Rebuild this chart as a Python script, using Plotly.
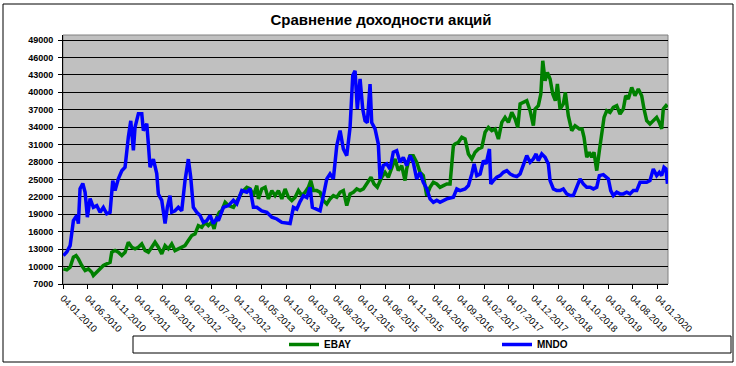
import plotly.graph_objects as go
from datetime import datetime

# ---- data (time as decimal years) ----
ebay_t = [2010.015, 2010.072, 2010.128, 2010.183, 2010.228, 2010.267, 2010.324, 2010.380, 2010.435, 2010.492,
          2010.519, 2010.576, 2010.632, 2010.687, 2010.744, 2010.800, 2010.828, 2010.884, 2010.939, 2010.997,
          2011.052, 2011.107, 2011.165, 2011.220, 2011.276, 2011.333, 2011.389, 2011.444, 2011.501, 2011.556,
          2011.612, 2011.669, 2011.725, 2011.780, 2011.837, 2011.892, 2011.948, 2012.005, 2012.060, 2012.116,
          2012.173, 2012.228, 2012.284, 2012.341, 2012.397, 2012.452, 2012.509, 2012.548, 2012.593, 2012.637,
          2012.677, 2012.733, 2012.788, 2012.872, 2012.929, 2013.013, 2013.097, 2013.153, 2013.208, 2013.265,
          2013.292, 2013.349, 2013.405, 2013.460, 2013.518, 2013.573, 2013.628, 2013.686, 2013.741, 2013.797,
          2013.854, 2013.910, 2013.965, 2014.022, 2014.077, 2014.133, 2014.173, 2014.217, 2014.274, 2014.329,
          2014.385, 2014.442, 2014.497, 2014.553, 2014.610, 2014.666, 2014.721, 2014.778, 2014.834, 2014.889,
          2014.946, 2015.002, 2015.057, 2015.114, 2015.158, 2015.186, 2015.237, 2015.292, 2015.366, 2015.422,
          2015.477, 2015.534, 2015.590, 2015.645, 2015.702, 2015.758, 2015.786, 2015.842, 2015.897, 2015.955,
          2016.010, 2016.065, 2016.123, 2016.178, 2016.234, 2016.291, 2016.346, 2016.402, 2016.459, 2016.514,
          2016.543, 2016.570, 2016.598, 2016.654, 2016.711, 2016.766, 2016.822, 2016.879, 2016.934, 2016.990,
          2017.047, 2017.102, 2017.158, 2017.215, 2017.270, 2017.326, 2017.383, 2017.438, 2017.494, 2017.551,
          2017.607, 2017.652, 2017.691, 2017.746, 2017.803, 2017.859, 2017.914, 2017.943, 2017.998, 2018.039,
          2018.072, 2018.111, 2018.149, 2018.195, 2018.240, 2018.284, 2018.318, 2018.363, 2018.418, 2018.452,
          2018.502, 2018.559, 2018.615, 2018.688, 2018.733, 2018.766, 2018.812, 2018.855, 2018.896, 2018.934,
          2018.980, 2019.024, 2019.064, 2019.103, 2019.148, 2019.203, 2019.259, 2019.316, 2019.371, 2019.427,
          2019.467, 2019.511, 2019.568, 2019.623, 2019.679, 2019.736, 2019.775, 2019.820, 2019.875, 2019.931,
          2019.988, 2020.032, 2020.072, 2020.099, 2020.144, 2020.169]
ebay_v = [9610, 9440, 9890, 11610, 11900, 11330, 10180, 9320, 9610, 9030,
          8460, 9030, 9610, 10180, 10470, 10750, 12470, 12760, 12470, 11900,
          12470, 14190, 13330, 13050, 13330, 13910, 12760, 12470, 13330, 14190,
          13330, 12190, 13620, 13050, 13910, 12760, 13050, 13330, 13620, 14480,
          15340, 15630, 17060, 16770, 17630, 17060, 17630, 16490, 18490, 19350,
          19640, 21070, 20500, 20210, 21360, 22790, 23650, 23370, 22220, 23940,
          21650, 23370, 23650, 21650, 23080, 22220, 23080, 21650, 23370, 21930,
          21360, 21930, 23080, 22220, 22790, 23650, 24800, 23080, 23080, 22790,
          21360, 20790, 21650, 22220, 21930, 22790, 23080, 20500, 22500, 22790,
          23370, 23080, 23370, 24230, 24800, 25370, 24230, 23650, 25370, 26230,
          25370, 27090, 28530, 26520, 27380, 24800, 26810, 29100, 29100, 27950,
          26230, 25660, 22220, 23650, 24510, 24230, 23650, 23940, 24230, 24230,
          27000, 30820, 31110, 31390, 32250, 31960, 29390, 28530, 29680, 30250,
          30540, 33120, 33970, 33400, 33690, 31960, 34830, 35690, 34830, 36550,
          35410, 33970, 37990, 38270, 38560, 36840, 34260, 37130, 37700, 39710,
          45440, 42000, 43430, 42290, 39710, 38560, 41430, 37130, 38000, 39990,
          35980, 33400, 34260, 33690, 33690, 32250, 28810, 29680, 28810, 29680,
          26520, 29960, 32540, 35690, 36840, 36550, 37410, 37700, 36270, 37130,
          39420, 38850, 40850, 39420, 40560, 39420, 37130, 35120, 34550, 35120,
          35690, 34830, 33690, 37130, 37700, 37410]

mndo_t = [2010.015, 2010.072, 2010.128, 2010.156, 2010.183, 2010.240, 2010.267, 2010.295, 2010.341, 2010.380,
          2010.418, 2010.464, 2010.519, 2010.576, 2010.632, 2010.687, 2010.744, 2010.800, 2010.845, 2010.884,
          2010.939, 2010.997, 2011.052, 2011.107, 2011.148, 2011.192, 2011.220, 2011.276, 2011.333, 2011.360,
          2011.417, 2011.444, 2011.472, 2011.528, 2011.585, 2011.612, 2011.669, 2011.725, 2011.763, 2011.808,
          2011.837, 2011.892, 2011.948, 2012.005, 2012.060, 2012.116, 2012.156, 2012.200, 2012.257, 2012.313,
          2012.368, 2012.425, 2012.481, 2012.536, 2012.593, 2012.620, 2012.704, 2012.788, 2012.872, 2012.929,
          2013.013, 2013.097, 2013.153, 2013.208, 2013.265, 2013.349, 2013.434, 2013.518, 2013.602, 2013.686,
          2013.770, 2013.825, 2013.881, 2013.938, 2013.993, 2014.049, 2014.106, 2014.161, 2014.200, 2014.274,
          2014.329, 2014.385, 2014.442, 2014.497, 2014.553, 2014.610, 2014.666, 2014.721, 2014.778, 2014.834,
          2014.879, 2014.918, 2014.956, 2015.002, 2015.047, 2015.086, 2015.124, 2015.170, 2015.198, 2015.254,
          2015.309, 2015.338, 2015.393, 2015.450, 2015.506, 2015.561, 2015.618, 2015.674, 2015.729, 2015.786,
          2015.842, 2015.897, 2015.954, 2016.010, 2016.065, 2016.123, 2016.178, 2016.234, 2016.291, 2016.346,
          2016.402, 2016.459, 2016.514, 2016.570, 2016.627, 2016.682, 2016.766, 2016.822, 2016.879, 2016.918,
          2016.963, 2017.019, 2017.074, 2017.119, 2017.175, 2017.198, 2017.242, 2017.299, 2017.354, 2017.410,
          2017.467, 2017.523, 2017.578, 2017.635, 2017.691, 2017.746, 2017.803, 2017.859, 2017.914, 2017.960,
          2017.998, 2018.055, 2018.111, 2018.166, 2018.195, 2018.251, 2018.307, 2018.363, 2018.418, 2018.475,
          2018.531, 2018.586, 2018.643, 2018.699, 2018.754, 2018.811, 2018.867, 2018.923, 2018.980, 2019.024,
          2019.091, 2019.175, 2019.215, 2019.259, 2019.316, 2019.371, 2019.427, 2019.484, 2019.539, 2019.595,
          2019.652, 2019.708, 2019.763, 2019.820, 2019.875, 2019.931, 2019.988, 2020.032, 2020.072, 2020.111,
          2020.144, 2020.169]
mndo_v = [11900, 12500, 13600, 15700, 17900, 18800, 17400, 23400, 24300, 22800,
          18500, 21700, 20200, 20500, 19350, 20200, 19100, 19350, 24800, 23100,
          25100, 26500, 27100, 32250, 35100, 30000, 34000, 36300, 36300, 33400,
          34600, 31100, 27100, 28500, 26000, 22500, 21400, 17400, 20200, 22200,
          19350, 19600, 20200, 19600, 24800, 28500, 25400, 20200, 19350, 18800,
          17600, 17900, 18800, 17400, 18300, 17900, 20200, 20500, 21400, 20800,
          23100, 22800, 23400, 20200, 20200, 19600, 19350, 18500, 18200, 17600,
          17400, 17400, 20200, 19900, 21200, 22200, 21900, 23650, 20200, 19900,
          19600, 22200, 25100, 25950, 25100, 30800, 33400, 30250, 29100, 34000,
          42900, 43700, 37100, 42300, 37100, 35100, 34800, 41400, 34800, 33700,
          31100, 25100, 27400, 27700, 26800, 29700, 29960, 27950, 28800, 27400,
          29100, 27950, 25100, 26200, 24500, 23400, 21650, 21070, 21400, 21070,
          21400, 21650, 21800, 21930, 23370, 23080, 23370, 23940, 25950, 27670,
          25660, 25950, 28240, 27670, 30250, 24230, 24800, 25370, 25660, 26230,
          26520, 25950, 25660, 25500, 25950, 27380, 29100, 27950, 28530, 29390,
          28240, 29390, 28810, 27670, 24800, 23370, 23080, 23080, 23370, 22510,
          22220, 22220, 23660, 25090, 24230, 23660, 23660, 23370, 23660, 25660,
          25830, 25090, 23080, 22220, 22800, 22510, 22510, 22800, 22510, 23080,
          23080, 24510, 24510, 24510, 24800, 26810, 25660, 26230, 25660, 27090,
          26810, 24230]

tick_labels = ["04.01.2010", "04.06.2010", "04.11.2010", "04.04.2011", "04.09.2011",
               "04.02.2012", "04.07.2012", "04.12.2012", "04.05.2013", "04.10.2013",
               "04.03.2014", "04.08.2014", "04.01.2015", "04.06.2015", "04.11.2015",
               "04.04.2016", "04.09.2016", "04.02.2017", "04.07.2017", "04.12.2017",
               "04.05.2018", "04.10.2018", "04.03.2019", "04.08.2019", "04.01.2020"]
y_ticks = [7000, 10000, 13000, 16000, 19000, 22000, 25000, 28000, 31000, 34000,
           37000, 40000, 43000, 46000, 49000]


def to_date(t):
    y = int(t)
    a = datetime(y, 1, 1)
    b = datetime(y + 1, 1, 1)
    return a + (b - a) * (t - y)


tick_dates = [datetime.strptime(s, "%d.%m.%Y") for s in tick_labels]
ebay_x = [to_date(t) for t in ebay_t]
mndo_x = [to_date(t) for t in mndo_t]

FONT = "Liberation Sans, Arial, sans-serif"

fig = go.Figure()
fig.add_trace(go.Scatter(x=ebay_x, y=ebay_v, mode="lines", name="<b>EBAY</b>", legend="legend",
                         line=dict(color="#008000", width=3.5)))
fig.add_trace(go.Scatter(x=mndo_x, y=mndo_v, mode="lines", name="<b>MNDO</b>", legend="legend2",
                         line=dict(color="#0000FF", width=3.5)))

# layout geometry (pixels)
W, H = 736, 366
L, R, T, B = 63, 668, 35, 284
pw, ph = R - L, B - T


def px(x):
    return (x - L) / pw


def py(y):
    return (B - y) / ph


leg_common = dict(orientation="h", xanchor="left", y=py(344.5), yanchor="middle",
                  itemwidth=30, font=dict(size=10, family=FONT, color="black"),
                  bgcolor="rgba(0,0,0,0)", borderwidth=0)

fig.update_layout(
    width=W, height=H,
    margin=dict(l=L, r=W - R, t=T, b=H - B, pad=0, autoexpand=False),
    paper_bgcolor="white",
    plot_bgcolor="#C0C0C0",
    font=dict(family=FONT, size=9, color="black"),
    title=dict(text="<b>Сравнение доходности акций</b>", font=dict(size=15, family=FONT, color="black"),
               x=381 / W, xanchor="center", xref="container",
               y=1 - 20 / H, yanchor="middle", yref="container"),
    showlegend=True,
    legend=dict(x=px(284), **leg_common),
    legend2=dict(x=px(497), **leg_common),
    xaxis=dict(type="date", range=[to_date(2010.0082), to_date(2020.178)],
               tickvals=tick_dates, ticktext=tick_labels, tickangle=45,
               showgrid=False, showline=True, linecolor="black", linewidth=1,
               ticks="outside", ticklen=4, tickcolor="black", tickwidth=1, automargin=False,
               tickfont=dict(size=9.5, family=FONT, color="black"), zeroline=False),
    yaxis=dict(range=[7000, 49870], tickvals=y_ticks, ticktext=["<b>%d</b>" % v for v in y_ticks],
               showgrid=True, gridcolor="black", gridwidth=1,
               showline=True, linecolor="black", linewidth=1, automargin=False,
               ticks="outside", ticklen=4, tickcolor="black", tickwidth=1, ticklabelstandoff=3,
               tickfont=dict(size=9, family=FONT, color="black"), zeroline=False),
    shapes=[
        dict(type="rect", xref="paper", yref="paper", x0=0, x1=1, y0=0, y1=1,
             line=dict(color="#808080", width=1), layer="below"),
        dict(type="rect", xref="paper", yref="paper", x0=px(3), x1=px(733), y0=py(362), y1=py(4),
             line=dict(color="black", width=1)),
        dict(type="rect", xref="paper", yref="paper", x0=px(133), x1=px(731), y0=py(353), y1=py(336),
             line=dict(color="black", width=1)),
    ],
)

fig.write_html("out.html")
